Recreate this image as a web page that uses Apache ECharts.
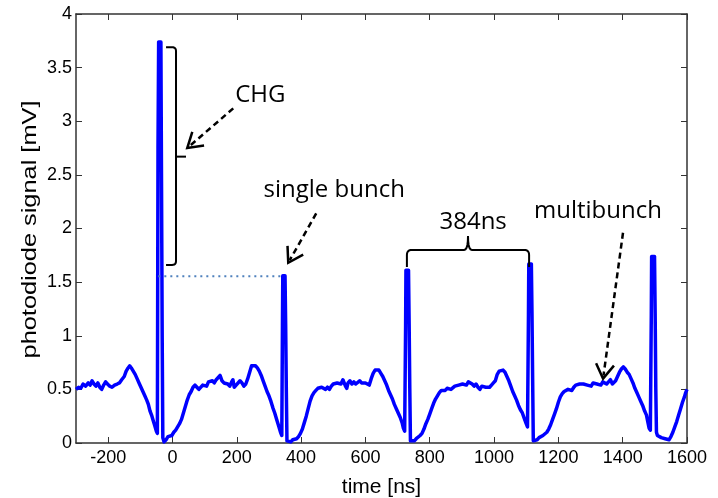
<!DOCTYPE html>
<html>
<head>
<meta charset="utf-8">
<script src="https://cdn.jsdelivr.net/npm/echarts@6/dist/echarts.min.js"></script>
<style>
html,body{margin:0;padding:0;background:#fff;}
#chart{width:718px;height:498px;}
</style>
</head>
<body>
<div id="chart"></div>
<script>
// ---- data ----
const timeNs = [
  -300,-292,-285,-278,-270,-262,-256,-250,-244,-238,
  -232,-226,-220,-214,-208,-202,-195,-188,-180,-172,
  -165,-158,-150,-144,-138,-133,-128,-122,-116,-110,
  -104,-98,-92,-86,-80,-75,-70,-65,-60,-55,
  -50,-47,-46,-45,-43,-36,-34,-32,-30,-26,
  -20,-14,-8,-2,4,10,16,22,28,34,
  40,46,52,58,64,70,76,82,88,94,
  100,106,112,118,124,130,136,142,148,154,
  160,166,172,178,184,188,192,198,204,210,
  216,222,228,234,240,246,252,258,264,270,
  276,282,288,294,300,306,312,318,324,330,
  336,340,341,342,343,350,352,354,356,362,
  368,374,380,386,392,398,404,410,416,422,
  428,434,440,446,452,458,464,470,476,482,
  488,494,500,506,512,518,524,530,534,538,
  542,546,552,558,564,570,576,582,588,594,
  600,606,612,618,624,630,636,642,648,654,
  660,666,672,678,684,690,696,702,708,714,
  718,722,724,725,726,734,736,738,740,746,
  752,758,764,770,776,782,788,794,800,806,
  812,818,824,830,836,842,848,854,860,866,
  872,878,884,890,896,902,908,914,920,926,
  932,938,944,950,956,962,968,974,980,986,
  992,998,1004,1010,1016,1022,1028,1034,1040,1046,
  1052,1058,1064,1070,1076,1082,1088,1094,1100,1104,
  1106,1107,1108,1116,1118,1120,1122,1128,1134,1140,
  1146,1152,1158,1164,1170,1176,1182,1188,1194,1200,
  1206,1212,1218,1224,1230,1236,1242,1248,1254,1260,
  1266,1272,1278,1284,1290,1296,1302,1308,1314,1320,
  1326,1332,1338,1344,1350,1356,1362,1368,1372,1378,
  1384,1390,1396,1402,1408,1414,1420,1426,1432,1438,
  1444,1450,1456,1462,1468,1474,1478,1482,1486,1488,
  1489,1490,1499,1501,1503,1505,1508,1514,1520,1526,
  1532,1538,1544,1550,1556,1562,1568,1574,1580,1586,
  1592,1596,1600
];
const signalMv = [
  0.50,0.52,0.51,0.55,0.53,0.56,0.54,0.58,0.55,0.53,
  0.56,0.52,0.50,0.54,0.57,0.55,0.53,0.52,0.54,0.55,
  0.56,0.59,0.62,0.67,0.70,0.72,0.70,0.67,0.64,0.60,
  0.56,0.52,0.48,0.44,0.40,0.36,0.30,0.26,0.21,0.16,
  0.11,0.09,0.10,2.75,3.74,3.74,2.38,1.00,0.05,0.01,
  0.03,0.06,0.05,0.07,0.10,0.12,0.15,0.18,0.22,0.28,
  0.34,0.40,0.45,0.48,0.52,0.54,0.52,0.50,0.51,0.54,
  0.55,0.53,0.57,0.56,0.58,0.56,0.59,0.60,0.63,0.58,
  0.56,0.57,0.55,0.53,0.57,0.59,0.52,0.54,0.55,0.58,
  0.56,0.53,0.55,0.60,0.66,0.72,0.71,0.72,0.70,0.67,
  0.63,0.58,0.53,0.48,0.44,0.39,0.33,0.28,0.22,0.16,
  0.10,0.07,0.08,1.10,1.56,1.56,1.10,0.50,0.02,0.02,
  0.01,0.03,0.02,0.04,0.06,0.09,0.13,0.19,0.25,0.32,
  0.39,0.44,0.47,0.49,0.51,0.50,0.52,0.51,0.50,0.52,
  0.50,0.53,0.55,0.54,0.56,0.57,0.55,0.59,0.60,0.53,
  0.51,0.56,0.58,0.55,0.57,0.55,0.56,0.58,0.56,0.55,
  0.56,0.55,0.54,0.60,0.65,0.68,0.69,0.68,0.65,0.62,
  0.58,0.54,0.49,0.45,0.41,0.36,0.32,0.28,0.24,0.19,
  0.14,0.11,0.12,1.10,1.61,1.61,1.10,0.50,0.02,0.01,
  0.02,0.04,0.03,0.07,0.09,0.13,0.18,0.22,0.27,0.32,
  0.37,0.41,0.44,0.47,0.49,0.50,0.49,0.51,0.52,0.50,
  0.51,0.53,0.52,0.54,0.53,0.55,0.56,0.54,0.57,0.56,
  0.55,0.53,0.55,0.52,0.50,0.53,0.54,0.52,0.53,0.52,
  0.54,0.56,0.58,0.64,0.67,0.68,0.68,0.66,0.62,0.58,
  0.53,0.48,0.44,0.40,0.35,0.31,0.28,0.23,0.18,0.15,
  0.16,1.20,1.67,1.67,1.20,0.60,0.02,0.02,0.03,0.05,
  0.05,0.07,0.08,0.10,0.13,0.17,0.22,0.27,0.32,0.38,
  0.43,0.46,0.48,0.49,0.50,0.51,0.49,0.52,0.54,0.53,
  0.55,0.54,0.55,0.56,0.54,0.55,0.53,0.56,0.57,0.55,
  0.56,0.54,0.57,0.58,0.55,0.57,0.59,0.55,0.54,0.58,
  0.62,0.66,0.69,0.71,0.69,0.66,0.64,0.60,0.56,0.51,
  0.47,0.43,0.39,0.35,0.30,0.26,0.20,0.14,0.12,0.13,
  1.20,1.74,1.74,1.20,0.50,0.10,0.07,0.06,0.05,0.06,
  0.04,0.05,0.03,0.06,0.10,0.15,0.20,0.26,0.32,0.38,
  0.43,0.47,0.50
];
const xTicks = [-200, 0, 200, 400, 600, 800, 1000, 1200, 1400, 1600];
const yTicks = [0, 0.5, 1, 1.5, 2, 2.5, 3, 3.5, 4];
const xTitle = 'time [ns]';
const yTitle = 'photodiode signal [mV]';

// annotation anchors in data coordinates
const chgBracket = { x0: -20, x1: 11, x2: 42, top: 3.69, mid: 2.67, bottom: 1.66 };
const spanBracket = { left: 729, right: 1109, cusp: 919, level: 1.80, cuspTop: 1.93, legBottom: 1.64 };
const dottedRef = { from: -44, to: 341, level: 1.555 };
const arrows = [
  { from: [189, 3.12], to: [46, 2.75] },
  { from: [447, 2.14], to: [360, 1.68] },
  { from: [1401, 1.96], to: [1339, 0.60] }
];
const labels = [
  { text: 'CHG', at: [273, 3.24] },
  { text: 'single bunch', at: [503, 2.36] },
  { text: '384ns', at: [935, 2.06] },
  { text: 'multibunch', at: [1323, 2.16] }
];

const seriesData = timeNs.map((t, i) => [t, signalMv[i]]);

const chart = echarts.init(document.getElementById('chart'), null, { renderer: 'canvas' });
const AX = '#333';
const FONT = 'Liberation Sans, Arial, sans-serif';
const tickFont = { fontFamily: FONT, fontSize: 18, color: '#000' };

chart.setOption({
  animation: false,
  backgroundColor: '#fff',
  grid: { left: 76, right: 31, top: 14, bottom: 55, containLabel: false, outerBoundsMode: 'none' },
  xAxis: [{
    type: 'value', min: -300, max: 1600, position: 'bottom',
    name: xTitle, nameLocation: 'middle', nameGap: 34,
    nameTextStyle: { fontFamily: FONT, fontSize: 21, color: '#000' },
    axisLine: { show: true, onZero: false, lineStyle: { color: AX, width: 1.5 } },
    axisTick: { show: true, inside: true, length: 6, customValues: xTicks, lineStyle: { color: AX } },
    axisLabel: Object.assign({ customValues: xTicks, margin: 6, formatter: v => String(v) }, tickFont),
    splitLine: { show: false }
  }, {
    type: 'value', min: -300, max: 1600, position: 'top',
    axisLine: { show: true, onZero: false, lineStyle: { color: AX, width: 1.5 } },
    axisTick: { show: true, inside: true, length: 6, customValues: xTicks, lineStyle: { color: AX } },
    axisLabel: { show: false },
    splitLine: { show: false }
  }],
  yAxis: [{
    type: 'value', min: 0, max: 4, interval: 0.5, position: 'left',
    axisLine: { show: true, onZero: false, lineStyle: { color: AX, width: 1.5 } },
    axisTick: { show: true, inside: true, length: 6, lineStyle: { color: AX } },
    axisLabel: Object.assign({ margin: 4, formatter: v => String(v) }, tickFont),
    splitLine: { show: false }
  }, {
    type: 'value', min: 0, max: 4, interval: 0.5, position: 'right',
    axisLine: { show: true, onZero: false, lineStyle: { color: AX, width: 1.5 } },
    axisTick: { show: true, inside: true, length: 6, lineStyle: { color: AX } },
    axisLabel: { show: false },
    splitLine: { show: false }
  }],
  series: [{
    type: 'line', xAxisIndex: 0, yAxisIndex: 0,
    data: seriesData, showSymbol: false, symbol: 'none',
    lineStyle: { color: '#0000ff', width: 3.5, join: 'round' },
    clip: true, z: 2
  }]
});

function px(p) { return chart.convertToPixel({ xAxisIndex: 0, yAxisIndex: 0 }, p); }
function quad(p0, p1, p2, n) {
  const out = [];
  for (let i = 1; i <= n; i++) {
    const t = i / n, u = 1 - t;
    out.push([u * u * p0[0] + 2 * u * t * p1[0] + t * t * p2[0], u * u * p0[1] + 2 * u * t * p1[1] + t * t * p2[1]]);
  }
  return out;
}

const g = [];
const stroke = '#000';
// y-axis title (rotated, stretched along its length like the reference)
(function () {
  const top = px([-300, 4]), bot = px([-300, 0]);
  g.push({ type: 'text', x: top[0] - 45, y: (top[1] + bot[1]) / 2 + 1, rotation: Math.PI / 2, scaleX: 1.3, z: 11,
           style: { text: yTitle, fill: '#000', font: '19.5px ' + FONT, align: 'center', verticalAlign: 'middle' } });
})();
// CHG bracket
(function () {
  const a = px([chgBracket.x0, chgBracket.top]);
  const vTop = px([chgBracket.x1, chgBracket.top]);
  const vMid = px([chgBracket.x1, chgBracket.mid]);
  const mEnd = px([chgBracket.x2, chgBracket.mid]);
  const vBot = px([chgBracket.x1, chgBracket.bottom]);
  const b = px([chgBracket.x0, chgBracket.bottom]);
  const r = 4;
  let pts = [a, [vTop[0] - r, vTop[1]]];
  pts = pts.concat(quad([vTop[0] - r, vTop[1]], vTop, [vTop[0], vTop[1] + r], 6));
  pts.push([vBot[0], vBot[1] - r]);
  pts = pts.concat(quad([vBot[0], vBot[1] - r], vBot, [vBot[0] - r, vBot[1]], 6));
  pts.push(b);
  g.push({ type: 'polyline', shape: { points: pts }, style: { fill: null, stroke, lineWidth: 2 }, z: 10 });
  g.push({ type: 'line', shape: { x1: vMid[0], y1: vMid[1], x2: mEnd[0], y2: mEnd[1] }, style: { stroke, lineWidth: 2 }, z: 10 });
})();
// 384 ns bracket
(function () {
  const lb = px([spanBracket.left, spanBracket.legBottom]);
  const lc = px([spanBracket.left, spanBracket.level]);
  const c = px([spanBracket.cusp, spanBracket.level]);
  const ct = px([spanBracket.cusp, spanBracket.cuspTop]);
  const rc = px([spanBracket.right, spanBracket.level]);
  const rb = px([spanBracket.right, spanBracket.legBottom]);
  const r = 5;
  let pts = [lb, [lc[0], lc[1] + r]];
  pts = pts.concat(quad([lc[0], lc[1] + r], lc, [lc[0] + r, lc[1]], 6));
  pts.push([c[0] - 4, c[1]]);
  pts = pts.concat(quad([c[0] - 4, c[1]], [c[0], c[1]], ct, 5));
  pts = pts.concat(quad(ct, [c[0], c[1]], [c[0] + 4, c[1]], 5));
  pts.push([rc[0] - r, rc[1]]);
  pts = pts.concat(quad([rc[0] - r, rc[1]], rc, [rc[0], rc[1] + r], 6));
  pts.push(rb);
  g.push({ type: 'polyline', shape: { points: pts }, style: { fill: null, stroke, lineWidth: 2 }, z: 10 });
})();
// dotted reference line
(function () {
  const a = px([dottedRef.from, dottedRef.level]);
  const b = px([dottedRef.to, dottedRef.level]);
  g.push({ type: 'line', shape: { x1: a[0], y1: a[1], x2: b[0], y2: b[1] },
           style: { stroke: '#4f81bd', lineWidth: 2, lineDash: [2, 4] }, z: 9 });
})();
// dashed arrows
arrows.forEach(ar => {
  const s = px(ar.from), t = px(ar.to);
  const dx = s[0] - t[0], dy = s[1] - t[1];
  const L = Math.hypot(dx, dy), ux = dx / L, uy = dy / L;
  const len = 17, ang = 32 * Math.PI / 180;
  const rot = (x, y, a) => [x * Math.cos(a) - y * Math.sin(a), x * Math.sin(a) + y * Math.cos(a)];
  const a1 = rot(ux, uy, ang), a2 = rot(ux, uy, -ang);
  g.push({ type: 'line', shape: { x1: s[0], y1: s[1], x2: t[0] + ux * 3, y2: t[1] + uy * 3 },
           style: { stroke, lineWidth: 2.5, lineDash: [6, 4] }, z: 10 });
  g.push({ type: 'polyline', shape: { points: [[t[0] + a1[0] * len, t[1] + a1[1] * len], t, [t[0] + a2[0] * len, t[1] + a2[1] * len]] },
           style: { stroke, lineWidth: 2.5, fill: null }, z: 10 });
});
// annotation texts
labels.forEach(lb => {
  const p = px(lb.at);
  g.push({ type: 'text', x: p[0], y: p[1], z: 11,
           style: { text: lb.text, fill: '#000', font: '24px "Open Sans", Lato, sans-serif',
                    align: 'center', verticalAlign: 'middle' } });
});
chart.setOption({ graphic: g });
</script>
</body>
</html>
